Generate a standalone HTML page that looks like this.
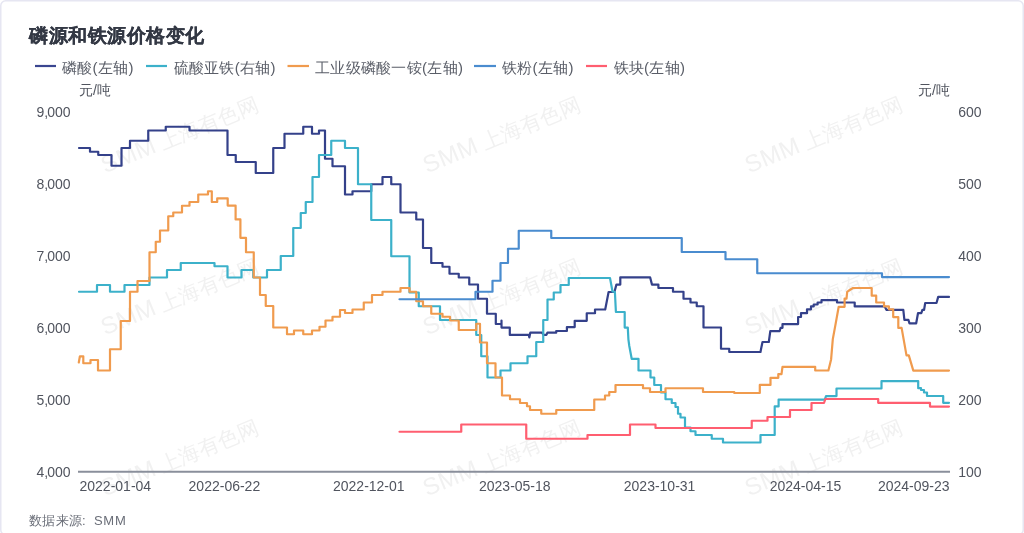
<!DOCTYPE html>
<html><head><meta charset="utf-8">
<style>
html,body{margin:0;padding:0;background:#fff;width:1024px;height:533px;overflow:hidden}
svg{display:block;font-family:"Liberation Sans",sans-serif;will-change:transform}
</style></head><body>
<svg width="1024" height="533" viewBox="0 0 1024 533">
<rect x="0.75" y="0.75" width="1022.5" height="534" rx="5" ry="5" fill="#fff" stroke="#e6e6f2" stroke-width="1.5"/>
<!-- watermark -->
<g fill="#f1f1f1">
<g transform="translate(180,135) rotate(-22.5)"><text x="-84" y="7" font-size="24" letter-spacing="0.3">SMM</text><text x="-21.5" y="7.5" font-size="21">上海有色网</text></g>
<g transform="translate(502,135) rotate(-22.5)"><text x="-84" y="7" font-size="24" letter-spacing="0.3">SMM</text><text x="-21.5" y="7.5" font-size="21">上海有色网</text></g>
<g transform="translate(824,135) rotate(-22.5)"><text x="-84" y="7" font-size="24" letter-spacing="0.3">SMM</text><text x="-21.5" y="7.5" font-size="21">上海有色网</text></g>
<g transform="translate(180,297) rotate(-22.5)"><text x="-84" y="7" font-size="24" letter-spacing="0.3">SMM</text><text x="-21.5" y="7.5" font-size="21">上海有色网</text></g>
<g transform="translate(502,297) rotate(-22.5)"><text x="-84" y="7" font-size="24" letter-spacing="0.3">SMM</text><text x="-21.5" y="7.5" font-size="21">上海有色网</text></g>
<g transform="translate(824,297) rotate(-22.5)"><text x="-84" y="7" font-size="24" letter-spacing="0.3">SMM</text><text x="-21.5" y="7.5" font-size="21">上海有色网</text></g>
<g transform="translate(180,458) rotate(-22.5)"><text x="-84" y="7" font-size="24" letter-spacing="0.3">SMM</text><text x="-21.5" y="7.5" font-size="21">上海有色网</text></g>
<g transform="translate(502,458) rotate(-22.5)"><text x="-84" y="7" font-size="24" letter-spacing="0.3">SMM</text><text x="-21.5" y="7.5" font-size="21">上海有色网</text></g>
<g transform="translate(824,458) rotate(-22.5)"><text x="-84" y="7" font-size="24" letter-spacing="0.3">SMM</text><text x="-21.5" y="7.5" font-size="21">上海有色网</text></g>
</g>
<!-- title -->
<text x="29" y="42" font-size="19" letter-spacing="0.5" font-weight="bold" fill="#333844" stroke="#333844" stroke-width="0.2">磷源和铁源价格变化</text>
<!-- legend -->
<g stroke-width="2.2">
<line x1="35" y1="66" x2="56" y2="66" stroke="#3a4690"/>
<line x1="146" y1="66" x2="167" y2="66" stroke="#3cb1ca"/>
<line x1="287.5" y1="66" x2="309" y2="66" stroke="#f09b4e"/>
<line x1="474" y1="66" x2="496" y2="66" stroke="#4a8ccf"/>
<line x1="586" y1="66" x2="607" y2="66" stroke="#ff5e70"/>
</g>
<g font-size="15" letter-spacing="0.3" fill="#5a5e68" transform="translate(-0.5,-0.5)">
<text x="62.5" y="73">磷酸(左轴)</text>
<text x="174" y="73">硫酸亚铁(右轴)</text>
<text x="315.5" y="73">工业级磷酸一铵(左轴)</text>
<text x="502.5" y="73">铁粉(左轴)</text>
<text x="614" y="73">铁块(左轴)</text>
</g>
<!-- axis names -->
<g font-size="14" fill="#50545e">
<text x="79" y="95">元/吨</text>
<text x="918" y="95">元/吨</text>
</g>
<!-- y labels -->
<g font-size="14" fill="#50545e" text-anchor="end">
<text x="70.5" y="117.2">9<tspan letter-spacing="-1.1">,</tspan>000</text>
<text x="70.5" y="189.2">8<tspan letter-spacing="-1.1">,</tspan>000</text>
<text x="70.5" y="261.2">7<tspan letter-spacing="-1.1">,</tspan>000</text>
<text x="70.5" y="333.2">6<tspan letter-spacing="-1.1">,</tspan>000</text>
<text x="70.5" y="405.2">5<tspan letter-spacing="-1.1">,</tspan>000</text>
<text x="70.5" y="477.2">4<tspan letter-spacing="-1.1">,</tspan>000</text>
</g>
<g font-size="14" fill="#50545e">
<text x="958.2" y="116.8">600</text>
<text x="958.2" y="188.8">500</text>
<text x="958.2" y="260.8">400</text>
<text x="958.2" y="332.8">300</text>
<text x="958.2" y="404.8">200</text>
<text x="958.2" y="476.8">100</text>
</g>
<!-- x axis -->
<line x1="78" y1="471.7" x2="950" y2="471.7" stroke="#8a8f9b" stroke-width="2"/>
<g font-size="14" fill="#50545e" text-anchor="middle">
<text x="79.5" y="491.1" text-anchor="start">2022-01-04</text>
<text x="224.4" y="491.1">2022-06-22</text>
<text x="368.8" y="491.1">2022-12-01</text>
<text x="514.8" y="491.1">2023-05-18</text>
<text x="659.6" y="491.1">2023-10-31</text>
<text x="805.5" y="491.1">2024-04-15</text>
<text x="949.5" y="491.1" text-anchor="end">2024-09-23</text>
</g>
<!-- footer -->
<g font-size="13" fill="#6a6e78"><text x="28.5" y="524.5" letter-spacing="0.5">数据来源</text><text x="82" y="524.5">:</text><text x="94" y="524.5" letter-spacing="0.7">SMM</text></g>
<!-- series -->
<g fill="none" stroke-width="2.2" stroke-linejoin="round" stroke-linecap="round">
<path id="navy" stroke="#34418a" d="M79,148 H90 V151.75 H98.25 V155 H111.5 V165.75 H121.5 V148 H130 V140.75 H148.25 V130.5 H165.75 V126.75 H189.5 V130.5 H227.5 V155 H235.75 V162 H255.75 V173 H273.25 V148 H284.5 V133.75 H303.25 V126.75 H312 V133.75 H319 V130.5 H325 V158.75 H332.5 V166.25 H345 V194.5 H352.5 V191.25 H371.25 V184.25 H382.5 V177 H391.25 V184.25 H400.5 V212.5 H416.25 V219.5 H423 V248 H431.25 V263 H442.5 V266.75 H449.5 V273.75 H458.75 V277.5 H469.25 V284.5 H478 V298.75 H487 V313.75 H495.8 V324 H501.5 V320.6 V327.6 H509.8 V334.9 H528.8 L529.3,337.4 L530.3,332.7 H542 L543.5,334.9 H546.4 L547.4,332.7 H556.2 V331 H566.9 V327.1 H574.7 V320.8 H586.75 V313.25 H595 V309.5 H605.2 L608.6,292 H614.4 L616.4,284.6 H620.3 V277.3 H650.1 L652,284.6 H658.4 V288 H673 V291.75 H683.5 V298.75 H690.5 V302.5 H696.75 V306.25 H703.5 V327.5 H721 V348.75 H729.25 V352 H760.5 L761,349.3 L762.5,342 H768.8 L770.3,331.2 H779.6 L780.6,327.8 H782.5 V324.1 H798.1 V317 H801 V313.2 H807 V309.3 H811 V306.4 H813.7 V304.5 H817.6 V302.5 H821.5 V300.2 H837 V302.5 H854.7 V306.4 H884.7 L886.4,309.8 H903.3 L904.4,319.9 H908.4 L909.5,323.3 H916.2 L918,313.2 H921.3 L922.4,309.8 H924.1 L925.2,303 H936.5 L938.2,296.9 H949"/>
<path id="cyan" stroke="#3cb1ca" d="M79,291.75 H97 V285 H110 V291.75 H124.5 V285 H149.5 V277.5 H167 V270 H180.75 V263 H214.5 V266.25 H227.5 V277.5 H241.5 V270 H253.25 V277.5 H267 V270 H280.75 V256 H293.25 V228 H300.75 V213 H305.75 V202 H312.5 V177 H319 V155 H331.25 V140.75 H345 V148 H358 V184.25 H371.25 V220 H391.25 V256.25 H409.5 V292.5 H418.75 V306.25 H440 V320 H476.25 V335 H481.25 V356.25 H487.5 V377.5 H500.5 V370.5 H510.5 V363.25 H527.5 V356.25 H536.25 V342 H543.25 V320 H547.5 V299.5 H553.75 V292.5 H560.5 V285 H568.75 V278 H610 L612.5,291.5 L614.9,292 L615.9,312 H624.7 V327.6 H627.8 L628.4,339.3 L629.3,346 L631.7,358.8 H638.5 V370.5 H650.5 V377.5 H654.25 V385 H661 V392.5 H665.5 V399.25 H671.75 V403 H675.5 V407 H678 V413.75 H680.5 V417.5 H685 V427.5 H690.5 V431.25 H695.5 V435 H711.75 V438.75 H723 V442.5 H760.5 V435 H774.7 V406.4 H778.6 V399.6 H824.8 L826,396.1 H836.5 V388.5 H881.5 V381.2 H918.2 V388.2 H921 V390 H924 V392.5 H927 V396 H943.2 V402.85 H949"/>
<path id="orange" stroke="#f09b4e" d="M78.8,362.5 L79.9,356.3 H83.3 V363.25 H90.5 V360 H98 V370.5 H110 V349.25 H120.75 V321 H130 V291.75 H137.5 V281 H149.5 V252.25 H155.75 V241.75 H160 V230.5 H168.25 V216.25 H173.25 V212.5 H182 V205.75 H189.5 V202 H198.25 V194.5 H208 V191.25 H211.8 V202 H217.2 V198.4 H227.7 V205.6 H235.6 V219.4 H240.4 V237.8 H246 V252.25 H253.75 V277.5 H260 V295 H265.75 V306 H273.25 V327.5 H287 V334.25 H294 V330.5 H303.25 V334.25 H312 V330.5 H319.5 V326.75 H325.5 V320.5 H332.5 V316.75 H340 V310 H345 V313 H352.5 V309.5 H363.75 V302.5 H372 V295 H382.5 V291.75 H400.5 V288 H409.5 V291.75 H416.25 V301.25 H423 V306.25 H431.25 V313.75 H442.5 V316.75 H450 V320.5 H458.75 V330 H476.25 V323.75 H480 V342.5 H487 V363.25 H495.5 V377.5 H502 V395.5 H510 V399.25 H520 V403 H527 V406.25 H530 V410 H541.25 V413.75 H556.25 V410 H594.25 V399.5 H605 V395.5 H609.25 V392 H615.5 V385 H643 V388.25 H650 V392 H665.5 V388.25 H703 V392 H734.25 V393 H759.8 V384.9 H770.5 V377.8 H778.3 V374.2 H781.5 L782.5,366.8 H815.2 V370.5 H828.4 L831.1,359.4 L832.8,339.1 L835.3,325.6 L838.7,306.8 H844.6 V298.6 H846.5 L847.2,291.8 L849.7,290 L853,288 H871.7 V295.7 H876.2 V302.5 H884 V306.4 H888.9 V309.3 H893.2 V317.1 H898.3 V327.9 H901.6 L906.5,355.4 H908.8 L913.3,370.6 H949"/>
<path id="blue" stroke="#4a8ccf" d="M399.5,299.25 H475.5 V291.75 H492.5 V280.75 H500.5 V263 H508 V248.75 H518.75 V230.75 H551.25 V238 H681.75 V252 H725.5 V259.25 H757.25 V273.25 H882 V277.1 H949"/>
<path id="red" stroke="#ff5e70" d="M399.5,431.75 H461.25 V424.5 H526.25 V438.75 H587.5 V435 H630 V424.5 H655.5 V428 H751.75 V420.75 H767.5 V417 H790 V410 H811.5 V403 H824 L825.4,399 H878.2 V402.85 H930 V406.6 H949"/>
</g>
</svg>
</body></html>
